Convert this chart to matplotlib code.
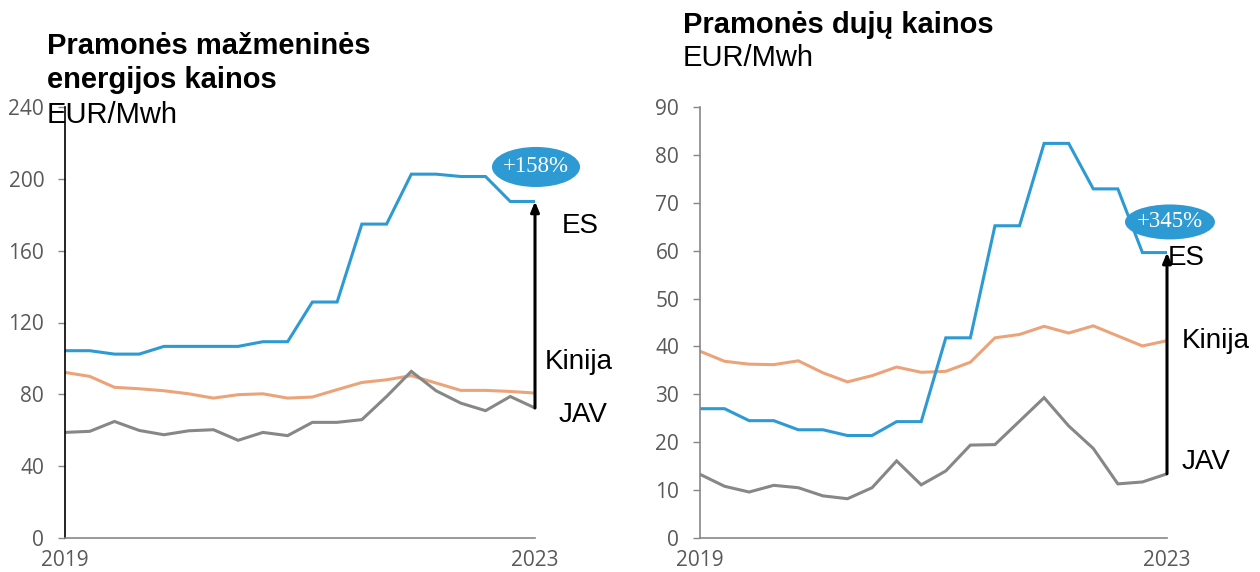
import matplotlib.pyplot as plt
from matplotlib.patches import Ellipse

# -------------------------------------------------
# Data (quarterly, 2019 - 2023), EUR/MWh
# -------------------------------------------------

quarters = list(range(20))
year_ticks = [0, 19]
year_labels = ["2019", "2023"]

# retail electricity prices for industry
power_es = [104.3, 104.3, 102.4, 102.4, 106.7, 106.7, 106.7, 106.7, 109.3, 109.3,
            131.4, 131.4, 174.8, 174.8, 202.6, 202.6, 201.3, 201.3, 187.4, 187.4]
power_cn = [92.2, 90.0, 83.9, 83.1, 82.0, 80.3, 77.9, 79.8, 80.3, 77.9,
            78.5, 82.6, 86.6, 88.1, 90.4, 86.3, 82.2, 82.2, 81.6, 80.7]
power_us = [58.8, 59.4, 64.9, 59.9, 57.5, 59.7, 60.3, 54.4, 58.8, 57.0,
            64.4, 64.4, 65.9, 78.8, 92.8, 82.0, 75.1, 70.9, 78.8, 72.4]

# gas prices for industry
gas_es = [27.0, 27.0, 24.5, 24.5, 22.6, 22.6, 21.4, 21.4, 24.3, 24.3,
          41.8, 41.8, 65.2, 65.2, 82.4, 82.4, 72.9, 72.9, 59.6, 59.6]
gas_cn = [39.0, 36.9, 36.3, 36.2, 37.0, 34.5, 32.6, 33.9, 35.7, 34.6,
          34.8, 36.7, 41.8, 42.5, 44.2, 42.8, 44.3, 42.2, 40.1, 41.2]
gas_us = [13.3, 10.8, 9.6, 11.0, 10.5, 8.8, 8.2, 10.5, 16.1, 11.1,
          14.0, 19.4, 19.5, 24.4, 29.3, 23.4, 18.7, 11.3, 11.7, 13.4]

power_badge = "+158%"
gas_badge = "+345%"

# -------------------------------------------------
# Style
# -------------------------------------------------

BLUE = "#2e9ad3"
ORANGE = "#eba47a"
GREY = "#878787"
TICK_GREY = "#595959"

plt.rcParams["font.family"] = ["Liberation Sans", "DejaVu Sans"]

fig = plt.figure(figsize=(12.6, 5.72), dpi=100)

ax1 = fig.add_axes([65 / 1260, 1 - 538 / 572, 470 / 1260, 431 / 572])
ax2 = fig.add_axes([700 / 1260, 1 - 538 / 572, 467 / 1260, 431 / 572])


def draw_panel(ax, es, cn, us, ymax, ystep, badge, badge_xy, badge_wh,
               label_pos, yaxis_black):
    ax.plot(quarters, cn, color=ORANGE, lw=2.2, solid_joinstyle="miter")
    ax.plot(quarters, us, color=GREY, lw=2.2, solid_joinstyle="miter")
    ax.plot(quarters, es, color=BLUE, lw=2.2, solid_joinstyle="miter")

    ax.set_xlim(0, 19)
    ax.set_ylim(0, ymax)
    ax.set_yticks(range(0, ymax + 1, ystep))
    ax.set_xticks(year_ticks)
    ax.set_xticklabels(year_labels)

    for side in ["top", "right"]:
        ax.spines[side].set_visible(False)
    ax.spines["left"].set_color("black" if yaxis_black else GREY)
    ax.spines["bottom"].set_color(GREY)
    ax.spines["left"].set_linewidth(1.2)
    ax.spines["bottom"].set_linewidth(1.2)

    ax.tick_params(axis="y", length=5, width=1, color=GREY, pad=10,
                   labelsize=15, labelcolor=TICK_GREY)
    ax.tick_params(axis="x", length=0, pad=9, labelsize=15, labelcolor=TICK_GREY)
    for lbl in ax.get_xticklabels() + ax.get_yticklabels():
        lbl.set_fontfamily("Open Sans")

    # arrow from US to EU end value
    ax.annotate("", xy=(19, es[-1]), xytext=(19, us[-1]),
                arrowprops=dict(arrowstyle="-|>,head_length=0.6,head_width=0.25",
                                color="black", lw=2.2, shrinkA=0, shrinkB=0),
                annotation_clip=False)

    # percentage badge
    ax.add_patch(Ellipse(badge_xy, badge_wh[0], badge_wh[1], fc=BLUE, ec="none",
                         clip_on=False, zorder=5))
    ax.text(badge_xy[0], badge_xy[1], badge, ha="center", va="center",
            color="white", fontsize=16.5, family="Liberation Serif",
            clip_on=False, zorder=6)

    for name, (x, y) in zip(["ES", "Kinija", "JAV"], label_pos):
        ax.text(x, y, name, ha="left", va="center", fontsize=20, color="black",
                clip_on=False)


draw_panel(ax1, power_es, power_cn, power_us, 240, 40, power_badge,
           (19.04, 206.6), (3.56, 22.3),
           [(20.1, 174), (19.4, 98), (19.95, 68.5)], True)
draw_panel(ax2, gas_es, gas_cn, gas_us, 90, 10, gas_badge,
           (19.12, 66.0), (3.66, 7.3),
           [(19.05, 58.5), (19.6, 41.1), (19.6, 15.9)], False)

# -------------------------------------------------
# Titles
# -------------------------------------------------

fig.text(47 / 1260, 1 - 54 / 572, "Pramonės mažmeninės", fontsize=21,
         fontweight="bold", va="baseline")
fig.text(47 / 1260, 1 - 88 / 572, "energijos kainos", fontsize=21,
         fontweight="bold", va="baseline")
fig.text(47 / 1260, 1 - 123 / 572, "EUR/Mwh", fontsize=21, va="baseline")

fig.text(683 / 1260, 1 - 33 / 572, "Pramonės dujų kainos", fontsize=21,
         fontweight="bold", va="baseline")
fig.text(683 / 1260, 1 - 66 / 572, "EUR/Mwh", fontsize=21, va="baseline")

fig.savefig("out.png", dpi=100)
